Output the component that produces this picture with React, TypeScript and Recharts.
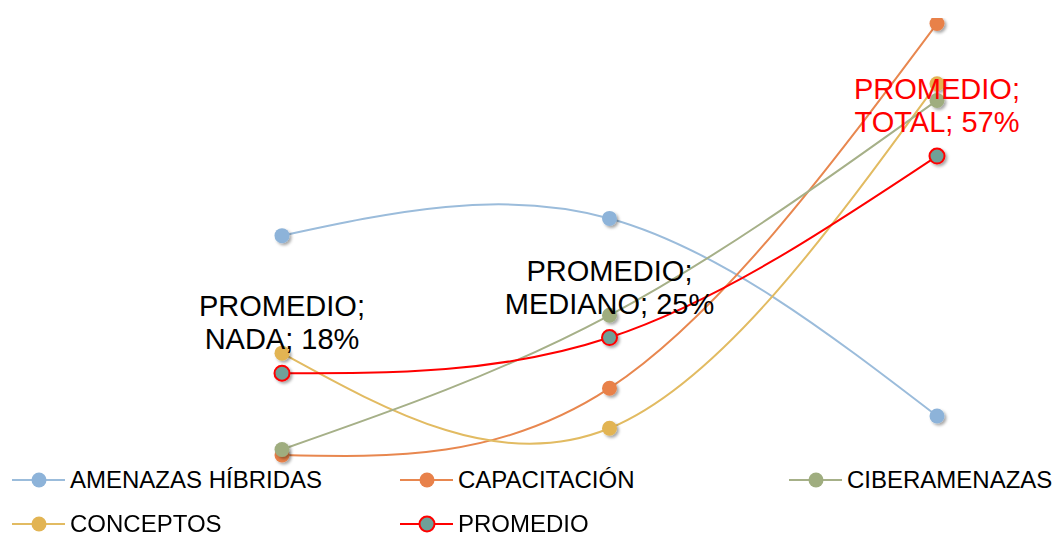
import React from 'react';
import { LineChart, Line, XAxis, YAxis, Legend } from 'recharts';

const categories = ['NADA', 'MEDIANO', 'TOTAL'];
const amenazasHibridas = [42.9, 46.0, 10.5];
const capacitacion = [3.5, 15.5, 81.0];
const ciberamenazas = [4.5, 28.6, 67.2];
const conceptos = [21.8, 8.3, 70.2];
const promedio = [18.2, 24.6, 57.2];
const promedioLabels = ['18%', '25%', '57%'];
const labelColors = ['#000000', '#000000', '#FF0000'];

const data = categories.map((c, i) => ({
  cat: c,
  amenazas: amenazasHibridas[i],
  capacitacion: capacitacion[i],
  ciberamenazas: ciberamenazas[i],
  conceptos: conceptos[i],
  promedio: promedio[i],
}));

type S = { key: string; name: string; line: string; fill: string; ring: string };
const sAmen: S = { key: 'amenazas', name: 'AMENAZAS HÍBRIDAS', line: '#9BBCDB', fill: '#8DB3D9', ring: 'none' };
const sCap: S = { key: 'capacitacion', name: 'CAPACITACIÓN', line: '#E8874F', fill: '#E8814A', ring: 'none' };
const sCib: S = { key: 'ciberamenazas', name: 'CIBERAMENAZAS', line: '#A6B088', fill: '#9FAD7F', ring: 'none' };
const sCon: S = { key: 'conceptos', name: 'CONCEPTOS', line: '#E2BB62', fill: '#E2B453', ring: 'none' };
const sProm: S = { key: 'promedio', name: 'PROMEDIO', line: '#FF0000', fill: '#6FA098', ring: '#FF0000' };

const drawOrder = [sAmen, sCap, sCon, sCib, sProm];
const legendOrder = [sAmen, sCap, sCib, sCon, sProm];

const W = 1053;
const H = 537;

const makeDot = (s: S) => (props: any) => {
  const { cx, cy, index } = props;
  if (cx == null || cy == null) return <g key={`${s.key}-${index}`} />;
  const id = `sh-${s.key}-${index}`;
  return (
    <g key={`${s.key}-${index}`}>
      <defs>
        <filter id={id} x="-50%" y="-50%" width="200%" height="200%">
          <feDropShadow dx="2" dy="2" stdDeviation="1.8" floodColor="#000" floodOpacity="0.35" />
        </filter>
      </defs>
      <circle
        cx={cx}
        cy={cy}
        r={7.5}
        fill={s.fill}
        stroke={s.ring}
        strokeWidth={s.ring === 'none' ? 0 : 2}
        filter={`url(#${id})`}
      />
    </g>
  );
};

const PromLabel = (props: any) => {
  const { x, y, index } = props;
  if (x == null || y == null) return null;
  const color = labelColors[index];
  return (
    <text
      x={x}
      textAnchor="middle"
      fontSize={29}
      fontFamily="'Liberation Sans', Arial, sans-serif"
      fill={color}
    >
      <tspan x={x} y={y - 57}>PROMEDIO;</tspan>
      <tspan x={x} y={y - 24}>{`${categories[index]}; ${promedioLabels[index]}`}</tspan>
    </text>
  );
};

const colX = [12, 400, 789];
const rowY = [480, 524];

const LegendContent = () => (
  <div style={{ position: 'relative', width: W, height: H }}>
    {legendOrder.map((s, i) => {
      const col = i % 3;
      const row = Math.floor(i / 3);
      const left = colX[col];
      const cy = rowY[row];
      return (
        <div key={s.key} style={{ position: 'absolute', left, top: cy - 16, height: 32, display: 'flex', alignItems: 'center' }}>
          <svg width={54} height={32} style={{ display: 'block' }}>
            <line x1={0} y1={16} x2={53} y2={16} stroke={s.line} strokeWidth={2} />
            <circle cx={27} cy={16} r={7.5} fill={s.fill} stroke={s.ring} strokeWidth={s.ring === 'none' ? 0 : 2} />
          </svg>
          <span
            style={{
              marginLeft: 4,
              fontSize: 24,
              fontFamily: "'Liberation Sans', Arial, sans-serif",
              color: '#000',
              whiteSpace: 'nowrap',
              lineHeight: '32px',
            }}
          >
            {s.name}
          </span>
        </div>
      );
    })}
  </div>
);

export default function App() {
  return (
    <div
      style={{
        position: 'fixed',
        left: 0,
        top: 0,
        width: W,
        height: H,
        background: '#fff',
        fontFamily: "'Liberation Sans', Arial, sans-serif",
      }}
    >
      <LineChart
        width={W}
        height={H}
        data={data}
        margin={{ top: 18, right: 116, bottom: 62.5, left: 282 }}
      >
        <XAxis dataKey="cat" hide padding={{ left: 0, right: 0 }} />
        <YAxis hide domain={[0, 82]} type="number" allowDataOverflow />
        {drawOrder.map((s) => (
          <Line
            key={s.key}
            dataKey={s.key}
            name={s.name}
            type="natural"
            stroke={s.line}
            strokeWidth={2}
            dot={makeDot(s)}
            activeDot={false}
            isAnimationActive={false}
            label={s.key === 'promedio' ? (p: any) => <PromLabel key={`lbl-${p.index}`} {...p} /> : false}
          />
        ))}
        <Legend
          layout="horizontal"
          verticalAlign="middle"
          align="center"
          wrapperStyle={{ left: 0, top: 0, width: W, height: H, pointerEvents: 'none' }}
          content={() => <LegendContent />}
        />
      </LineChart>
    </div>
  );
}
